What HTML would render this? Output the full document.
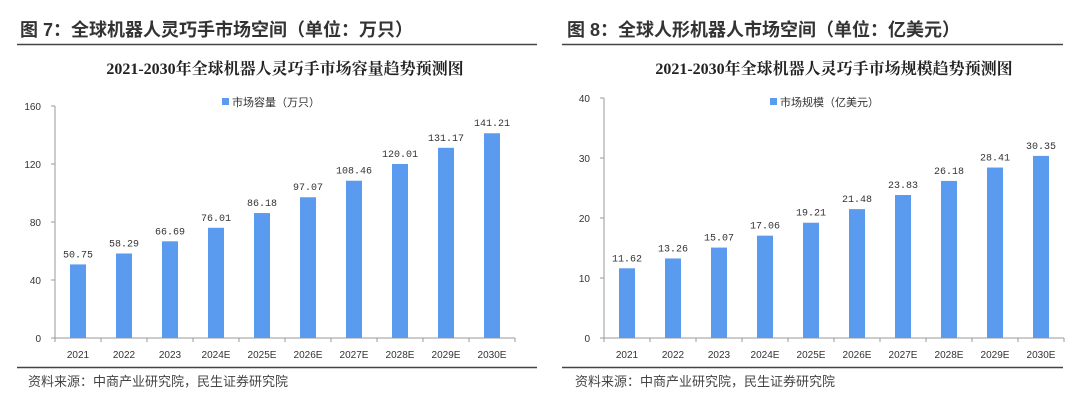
<!DOCTYPE html>
<html><head><meta charset="utf-8">
<style>
body{margin:0;width:1080px;height:400px;background:#fff;overflow:hidden;font-family:"Liberation Sans","Noto Sans CJK SC",sans-serif;}
svg{position:absolute;left:0;top:0}
</style></head>
<body>
<svg id="c" width="1080" height="400"></svg>
<script>
const categories=["2021","2022","2023","2024E","2025E","2026E","2027E","2028E","2029E","2030E"];
const valuesLeft=[50.75,58.29,66.69,76.01,86.18,97.07,108.46,120.01,131.17,141.21];
const valuesRight=[11.62,13.26,15.07,17.06,19.21,21.48,23.83,26.18,28.41,30.35];
const ticksLeft=[0,40,80,120,160];
const ticksRight=[0,10,20,30,40];
const NS="http://www.w3.org/2000/svg";
const svg=document.getElementById('c');
function mk(tag,attrs,txt,parent){const e=document.createElementNS(NS,tag);for(const k in attrs)e.setAttribute(k,attrs[k]);if(txt!==undefined)e.textContent=txt;(parent||svg).appendChild(e);return e;}
function panel(o){
  const g=mk('g',{});
  
  
  let t=mk('text',{x:o.hx,y:36,'font-size':18,'font-weight':'bold',fill:'#333'},o.header,g);
  
  let r=mk('line',{x1:o.rx1,x2:o.rx2,y1:44.5,y2:44.5,stroke:'#444','stroke-width':1.5},undefined,g);
  
  t=mk('text',{x:(o.ax+o.ax2)/2,y:74,'font-size':16,'font-weight':'bold','text-anchor':'middle',fill:'#222','font-family':'"Liberation Serif","Noto Serif CJK SC",serif'},o.title,g);
  
  let lr=mk('rect',{x:o.lx,y:98,width:7,height:7,fill:'#5b9bef'},undefined,g);
  
  t=mk('text',{x:o.lx+10,y:106,'font-size':11,fill:'#333'},o.legend,g);
  
  const y0=338,y1=o.ytop,max=o.ticks[o.ticks.length-1];
  const ys=v=>y0-(v/max)*(y0-y1);
  const step=(o.ax2-o.ax)/categories.length;
  const xs=i=>o.ax+step*(i+0.5);
  let a=mk('line',{x1:o.ax,x2:o.ax,y1:y1,y2:y0,stroke:'#999'},undefined,g);
  
  a=mk('line',{x1:o.ax,x2:o.ax2,y1:y0,y2:y0,stroke:'#999'},undefined,g);
  
  o.ticks.forEach(v=>{
    mk('line',{x1:o.ax-4,x2:o.ax,y1:ys(v),y2:ys(v),stroke:'#999'},undefined,g);
    const tl=mk('text',{x:o.ax-14,y:ys(v)+4,'font-size':10,'text-anchor':'end',fill:'#333'},String(v),g);
    
  });
  for(let i=0;i<=categories.length;i++){mk('line',{x1:o.ax+step*i,x2:o.ax+step*i,y1:y0,y2:y0+4,stroke:'#999'},undefined,g);}
  o.values.forEach((v,i)=>{
    const b=mk('rect',{x:xs(i)-8,y:ys(v),width:16,height:y0-ys(v),fill:'#5b9bef'},undefined,g);
    
    const vl=mk('text',{x:xs(i),y:ys(v)-7,'font-size':10,'text-anchor':'middle',fill:'#333','font-family':'"Liberation Mono",monospace'},v.toFixed(2),g);
    
    const xl=mk('text',{x:xs(i),y:358,'font-size':10,'text-anchor':'middle',fill:'#333'},categories[i],g);
    
  });
  r=mk('line',{x1:o.rx1,x2:o.rx2,y1:367.5,y2:367.5,stroke:'#444','stroke-width':1.5},undefined,g);
  
  t=mk('text',{x:o.hx+8,y:386,'font-size':13,fill:'#444'},'资料来源：中商产业研究院，民生证券研究院',g);
  
}
panel({name:'left-chart',header:'图 7：全球机器人灵巧手市场空间（单位：万只）',title:'2021-2030年全球机器人灵巧手市场容量趋势预测图',legend:'市场容量（万只）',hx:20,rx1:17,rx2:537,ax:55,ax2:515,lx:222,ytop:106,ticks:ticksLeft,values:valuesLeft});
panel({name:'right-chart',header:'图 8：全球人形机器人市场空间（单位：亿美元）',title:'2021-2030年全球机器人灵巧手市场规模趋势预测图',legend:'市场规模（亿美元）',hx:567,rx1:562,rx2:1063,ax:604,ax2:1064,lx:770,ytop:98,ticks:ticksRight,values:valuesRight});
</script>
</body></html>
